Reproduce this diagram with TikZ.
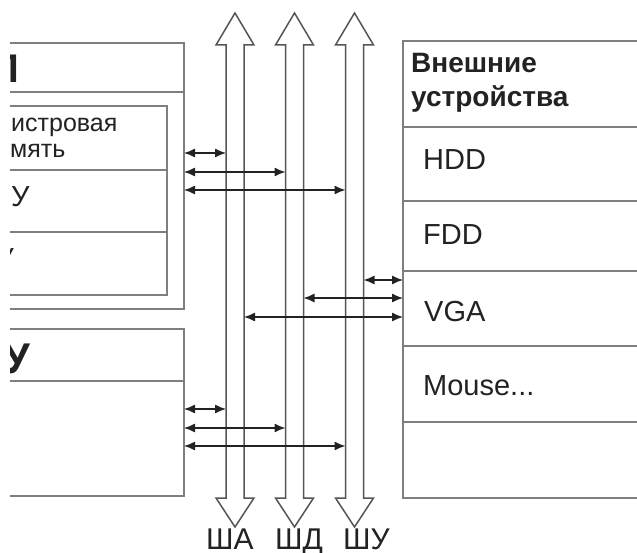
\documentclass[tikz,border=0pt]{standalone}
\usepackage{fontspec}
\setmainfont{Liberation Sans}
\usetikzlibrary{arrows.meta}
\definecolor{boxgray}{HTML}{7F7F7F}
\definecolor{busgray}{HTML}{555555}
\definecolor{ink}{HTML}{222222}
\begin{document}
\begin{tikzpicture}[x=1pt,y=-1pt,
  obox/.style={draw=boxgray, line width=2pt, rectangle, inner sep=0pt, outer sep=0pt},
  sepline/.style={draw=boxgray, line width=2pt},
  busline/.style={draw=busgray, line width=1.5pt, fill=white, line join=miter},
  harrow/.style={draw=ink, line width=1.3pt, >={Latex[length=11pt,width=9pt]}, <->},
  lbl/.style={inner sep=0pt, text=ink, font=\fontsize{29}{34}\selectfont},
  small/.style={inner sep=0pt, text=ink, font=\fontsize{25}{28}\selectfont},
  bold/.style={inner sep=0pt, text=ink, font=\bfseries\fontsize{28}{34}\selectfont},
  title/.style={inner sep=0pt, text=ink, font=\bfseries\fontsize{40}{44}\selectfont},
  buslbl/.style={inner sep=0pt, text=ink, font=\fontsize{30}{34}\selectfont},
  pics/bus/.style={code={
    \draw[busline] (-9,45) -- (-19,45) -- (0,13) -- (19,45) -- (9,45) -- (9,498)
      -- (19,498) -- (0,527) -- (-19,498) -- (-9,498) -- cycle;
    \coordinate (-L) at (-9,0);
    \coordinate (-R) at (9,0);
  }}]
\useasboundingbox[fill=white] (0,0) rectangle (637,553);
\begin{scope}
\clip (10,0) rectangle (637,553);
% boxes
\node[obox, anchor=north east, minimum width=260pt, minimum height=266pt] (cpu) at (184,43) {};
\node[obox, anchor=north east, minimum width=230pt, minimum height=189pt] (alu) at (167,106) {};
\node[obox, anchor=north east, minimum width=260pt, minimum height=167pt] (ram) at (184,329) {};
\node[obox, anchor=north west, minimum width=300pt, minimum height=457pt] (ext) at (403,41) {};
% separator levels
\coordinate (sc) at (0,92);
\coordinate (sa1) at (0,170);
\coordinate (sa2) at (0,232);
\coordinate (sr) at (0,381);
\coordinate (se1) at (0,127);
\coordinate (se2) at (0,201);
\coordinate (se3) at (0,271);
\coordinate (se4) at (0,346);
\coordinate (se5) at (0,422);
\draw[sepline] (cpu.west |- sc) -- (cpu.east |- sc);
\draw[sepline] (alu.west |- sa1) -- (alu.east |- sa1);
\draw[sepline] (alu.west |- sa2) -- (alu.east |- sa2);
\draw[sepline] (ram.west |- sr) -- (ram.east |- sr);
\foreach \s in {se1,se2,se3,se4,se5}
  \draw[sepline] (ext.west |- \s) -- (ext.east |- \s);
% glyph fragments cut by the left edge
\node[title, anchor=base east] (tcpu) at (19,83) {ЦП};
\node[lbl, anchor=base east] (tuu) at (14,269) {УУ};
\node[title, font=\bfseries\fontsize{43}{46}\selectfont, anchor=base east] (tram) at (30,373) {ОЗУ};
\end{scope}
% left texts (visible parts)
\node[small, anchor=base west] (treg1) at (11,132) {истровая};
\node[small, anchor=base west] (treg2) at (10,158) {мять};
\node[lbl, anchor=base west] (talu) at (11,207) {У};
% right texts
\node[bold, anchor=base west] (text1) at (411,73) {Внешние};
\node[bold, anchor=base west] (text2) at (411,107) {устройства};
\node[lbl, anchor=base west] (thdd) at (423,170) {HDD};
\node[lbl, anchor=base west] (tfdd) at (423,245) {FDD};
\node[lbl, anchor=base west] (tvga) at (424,321) {VGA};
\node[lbl, anchor=base west] (tmouse) at (423,395) {Mouse...};
% buses
\pic (busA) at (235,0) {bus};
\pic (busD) at (294.5,0) {bus};
\pic (busU) at (354.5,0) {bus};
% arrow levels
\coordinate (h1) at (0,153);
\coordinate (h2) at (0,172);
\coordinate (h3) at (0,190);
\coordinate (m1) at (0,280);
\coordinate (m2) at (0,298);
\coordinate (m3) at (0,317);
\coordinate (b1) at (0,409);
\coordinate (b2) at (0,428);
\coordinate (b3) at (0,446);
\draw[harrow] (cpu.east |- h1) -- (busA-L |- h1);
\draw[harrow] (cpu.east |- h2) -- (busD-L |- h2);
\draw[harrow] (cpu.east |- h3) -- (busU-L |- h3);
\draw[harrow] (busU-R |- m1) -- (ext.west |- m1);
\draw[harrow] (busD-R |- m2) -- (ext.west |- m2);
\draw[harrow] (busA-R |- m3) -- (ext.west |- m3);
\draw[harrow] (ram.east |- b1) -- (busA-L |- b1);
\draw[harrow] (ram.east |- b2) -- (busD-L |- b2);
\draw[harrow] (ram.east |- b3) -- (busU-L |- b3);
% bus labels
\node[buslbl, anchor=base west] (lA) at (206,549) {ША};
\node[buslbl, anchor=base west] (lD) at (275,549) {ШД};
\node[buslbl, anchor=base west] (lU) at (343,549) {ШУ};
\end{tikzpicture}
\end{document}
